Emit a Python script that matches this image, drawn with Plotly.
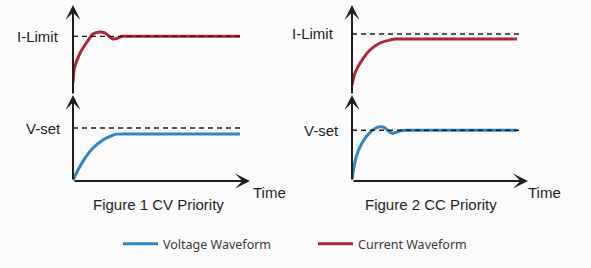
import plotly.graph_objects as go

# ---------------- data (schematic units: time 0..10, level 0..10) ----------------
T_CV_I = [0, 0.08, 0.4, 0.79, 1.13, 1.53, 1.81, 2.09, 2.26, 2.54, 2.77, 3.0, 9.43]
I_CV   = [1.33, 3.0, 4.67, 5.89, 6.78, 7.0, 6.89, 6.44, 6.22, 6.33, 6.52, 6.52, 6.52]
T_CV_V = [0, 0.28, 0.68, 1.13, 1.69, 2.1, 2.45, 2.7, 9.43]
V_CV   = [0.1, 1.28, 2.67, 3.84, 4.77, 5.2, 5.45, 5.47, 5.47]

T_CC_I = [0, 0.17, 0.57, 1.02, 1.59, 2.16, 2.44, 2.8, 9.38]
I_CC   = [1.11, 2.44, 3.89, 5.0, 5.78, 6.11, 6.22, 6.22, 6.22]
T_CC_V = [0, 0.1, 0.25, 0.45, 0.7, 1.0, 1.3, 1.6, 1.85, 2.1, 2.3, 2.55, 2.85, 3.2, 9.38]
V_CC   = [0.2, 1.5, 2.9, 3.95, 4.85, 5.6, 6.1, 6.3, 6.2, 5.75, 5.55, 5.7, 5.88, 5.9, 5.9]

ILIM = [6.52, 6.78]      # I-Limit level, fig 1 / fig 2
VSET = [6.16, 5.9]       # V-set level, fig 1 / fig 2
REF_END = [9.49, 9.55]   # end of dashed reference lines
AXIS_MAX = 10

CAPTIONS = ["Figure 1 CV Priority", "Figure 2 CC Priority"]
SERIES = ["Voltage Waveform", "Current Waveform"]
LEVEL_LABELS = ["I-Limit", "V-set"]
TIME_LABEL = "Time"

BLUE = "#2e86c8"
RED = "#b02435"
INK = "#1e1e1e"

W, H = 591, 268

def px_x(p):
    return p / W

def px_y(p):
    return 1 - p / H

fig = go.Figure()

curves = [
    (T_CV_I, I_CV, RED, SERIES[1], "x", "y", False),
    (T_CV_V, V_CV, BLUE, SERIES[0], "x", "y2", True),
    (T_CC_I, I_CC, RED, SERIES[1], "x2", "y3", True),
    (T_CC_V, V_CC, BLUE, SERIES[0], "x2", "y4", False),
]
# Voltage first so the legend lists it first
order = [1, 0, 2, 3]
for i in order:
    t, v, c, name, xa, ya, show = curves[i]
    fig.add_trace(go.Scatter(
        x=t, y=v, mode="lines", name=name, legendgroup=name, showlegend=show,
        line=dict(color=c, width=3, shape="spline", smoothing=0.7),
        xaxis=xa, yaxis=ya, hoverinfo="skip"))

# dashed reference levels
refs = [(ILIM[0], REF_END[0], "x", "y"), (VSET[0], REF_END[0], "x", "y2"),
        (ILIM[1], REF_END[1], "x2", "y3"), (VSET[1], REF_END[1], "x2", "y4")]
for lvl, end, xa, ya in refs:
    fig.add_trace(go.Scatter(
        x=[0, end], y=[lvl, lvl], mode="lines", showlegend=False,
        line=dict(color=INK, width=1.3, dash="5px,4px"),
        xaxis=xa, yaxis=ya, hoverinfo="skip"))

annotations = []

def arrow(xa, ya, x0, y0, x1, y1):
    annotations.append(dict(
        x=x1, y=y1, ax=x0, ay=y0, xref=xa, yref=ya, axref=xa, ayref=ya,
        text="", showarrow=True, arrowhead=3, arrowsize=1.25, arrowwidth=2,
        arrowcolor=INK, standoff=0, startstandoff=0))

text_font = dict(family="Liberation Sans, Arial, sans-serif", size=15, color=INK)

for k, (xa, yu, yl) in enumerate([("x", "y", "y2"), ("x2", "y3", "y4")]):
    # axes arrows
    arrow(xa, yu, 0, 0, 0, AXIS_MAX)
    arrow(xa, yl, 0, 0, 0, AXIS_MAX)
    arrow(xa, yl, 0, 0, AXIS_MAX, 0)
    # level labels
    annotations.append(dict(x=0, y=ILIM[k], xref=xa, yref=yu, text=LEVEL_LABELS[0],
                            showarrow=False, xanchor="right", yanchor="middle",
                            xshift=-12 if k == 0 else -16, font=text_font))
    annotations.append(dict(x=0, y=VSET[k], xref=xa, yref=yl, text=LEVEL_LABELS[1],
                            showarrow=False, xanchor="right", yanchor="middle",
                            xshift=-10 if k == 0 else -11, font=text_font))
    # time label
    annotations.append(dict(x=AXIS_MAX, y=0, xref=xa, yref=yl, text=TIME_LABEL,
                            showarrow=False, xanchor="left", yanchor="middle",
                            xshift=1 if k == 0 else -2, yshift=-11, font=text_font))

# captions
annotations.append(dict(x=px_x(159), y=px_y(204), xref="paper", yref="paper",
                        text=CAPTIONS[0], showarrow=False, xanchor="center",
                        yanchor="middle", font=text_font))
annotations.append(dict(x=px_x(431), y=px_y(204), xref="paper", yref="paper",
                        text=CAPTIONS[1], showarrow=False, xanchor="center",
                        yanchor="middle", font=text_font))

hidden = dict(visible=False, showgrid=False, zeroline=False, fixedrange=True)

fig.update_layout(
    width=W, height=H, margin=dict(l=0, r=0, t=0, b=0),
    paper_bgcolor="#fbfbfb", plot_bgcolor="rgba(0,0,0,0)",
    xaxis=dict(hidden, range=[0, AXIS_MAX], domain=[px_x(73), px_x(250)]),
    xaxis2=dict(hidden, range=[0, AXIS_MAX], domain=[px_x(352), px_x(528)]),
    yaxis=dict(hidden, range=[0, AXIS_MAX], domain=[px_y(95), px_y(5)], anchor="x"),
    yaxis2=dict(hidden, range=[0, AXIS_MAX], domain=[px_y(181), px_y(95)], anchor="x"),
    yaxis3=dict(hidden, range=[0, AXIS_MAX], domain=[px_y(95), px_y(5)], anchor="x2"),
    yaxis4=dict(hidden, range=[0, AXIS_MAX], domain=[px_y(181), px_y(95)], anchor="x2"),
    annotations=annotations,
    showlegend=True,
    legend=dict(orientation="h", x=px_x(118), y=px_y(244), xanchor="left",
                yanchor="middle", bgcolor="rgba(0,0,0,0)",
                font=dict(family="Noto Sans, sans-serif", size=12.5, color="#3a3a3a"),
                itemwidth=35, entrywidth=145, entrywidthmode="pixels",
                traceorder="normal"),
)

fig.write_html("out.html")
